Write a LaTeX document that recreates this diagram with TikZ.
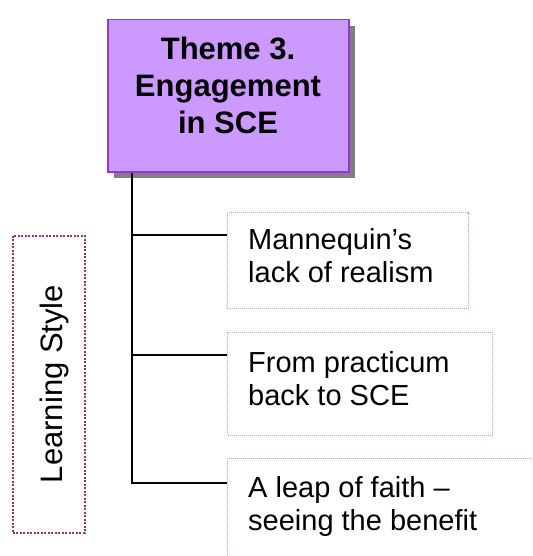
\documentclass[tikz,border=0pt]{standalone}
\usepackage{fontspec}
\setmainfont{Liberation Sans}
\usetikzlibrary{calc,shadows}
\definecolor{themefill}{HTML}{CC99FF}
\definecolor{themeline}{HTML}{9933CC}
\definecolor{leafline}{HTML}{CC99CC}
\definecolor{lsline}{HTML}{993366}
\definecolor{shadowgray}{HTML}{808080}
\tikzset{
  themebox/.style={draw=themeline, line width=1.5pt, fill=themefill, rectangle, inner sep=0pt, anchor=north west,
    drop shadow={shadow xshift=6pt, shadow yshift=-6pt, fill=shadowgray, opacity=1}},
  themetext/.style={font=\bfseries\fontsize{31}{37}\selectfont, align=center, inner sep=0pt, anchor=north},
  leafbox/.style={draw=leafline, line width=1pt, dash pattern=on 1pt off 1pt, rectangle, inner sep=0pt, anchor=north west},
  leaftext/.style={font=\fontsize{29}{33.5}\selectfont, align=left, inner sep=0pt, anchor=north west},
  lsbox/.style={draw=lsline, line width=1.5pt, dash pattern=on 2pt off 1.5pt, rectangle, inner sep=0pt, anchor=north west},
  lstext/.style={font=\fontsize{31}{36}\selectfont, rotate=90, anchor=base, inner sep=0pt},
  conn/.style={draw=black, line width=2pt}
}
\begin{document}
\begin{tikzpicture}[x=1pt,y=-1pt]
\useasboundingbox (0,0) rectangle (532,556);
\clip (0,0) rectangle (532,556);
\node[themebox, minimum width=241pt, minimum height=152pt] (theme) at (107,19) {};
\node[themetext] (themet) at (228,37) {Theme 3.\\Engagement\\in SCE};
\node[leafbox, minimum width=241pt, minimum height=96pt] (b1) at (227,212) {};
\node[leafbox, minimum width=265pt, minimum height=103pt] (b2) at (227,332) {};
\node[leafbox, minimum width=330pt, minimum height=110pt] (b3) at (227,458) {};
\node[leaftext] (t1) at (248,228) {Mannequin’s\\lack of realism};
\node[leaftext] (t2) at (248,351) {From practicum\\back to SCE};
\node[leaftext] (t3) at (248,476) {A leap of faith –\\seeing the benefit};
\node[lsbox, minimum width=72pt, minimum height=297pt] (ls) at (12,235) {};
\node[lstext] (lst) at (62,384) {Learning Style};
\coordinate (sp) at ($(theme.south west)+(25pt,0pt)$);
\coordinate (e1) at ($(b1.north west)+(0pt,-23pt)$);
\coordinate (e2) at ($(b2.north west)+(0pt,-23pt)$);
\coordinate (e3) at ($(b3.north west)+(0pt,-25pt)$);
\draw[conn] (sp) |- (e3);
\draw[conn] (sp |- e1) -- (e1);
\draw[conn] (sp |- e2) -- (e2);
\end{tikzpicture}
\end{document}
